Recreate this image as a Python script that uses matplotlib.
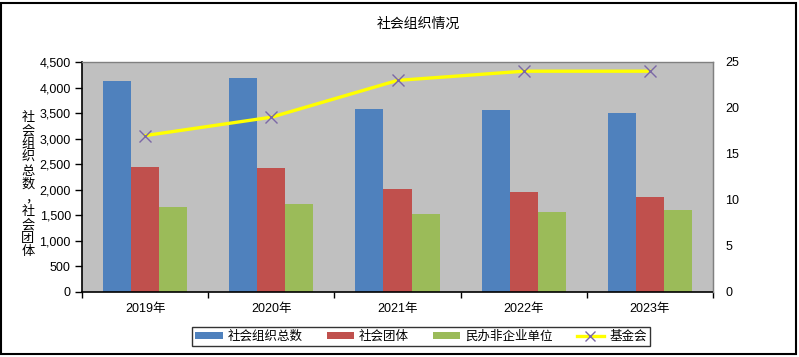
import matplotlib
matplotlib.use("Agg")
import matplotlib.pyplot as plt
from matplotlib.patches import Rectangle
from matplotlib.lines import Line2D
from matplotlib.patches import Patch
import numpy as np

plt.rcParams['font.family'] = ['Liberation Sans', 'Noto Sans CJK SC', 'DejaVu Sans']

years = ["2019年", "2020年", "2021年", "2022年", "2023年"]
total_orgs = [4128, 4187, 3580, 3561, 3502]
social_groups = [2446, 2426, 2015, 1957, 1859]
private_nonenterprise = [1663, 1722, 1526, 1565, 1604]
foundations = [17, 19, 23, 24, 24]

series_names = ["社会组织总数", "社会团体", "民办非企业单位", "基金会"]
colors = ["#4F81BD", "#C0504D", "#9BBB59"]
line_color = "#FFFF00"
marker_color = "#7B68A6"

W, H = 799, 357
fig = plt.figure(figsize=(W / 100, H / 100), dpi=100)
fig.patch.set_facecolor("white")

# chart frame
fig.patches.append(Rectangle((1 / W, 1 - 354 / H), 795 / W, 351 / H, transform=fig.transFigure,
                             fill=False, edgecolor="black", linewidth=1.5, zorder=0))

left, right, top, bottom = 82, 713, 62, 292
ax = fig.add_axes([left / W, 1 - bottom / H, (right - left) / W, (bottom - top) / H])
ax.set_facecolor("#C0C0C0")

x = np.arange(len(years))
bw = 0.222
ax.bar(x - bw, total_orgs, bw, color=colors[0], zorder=2)
ax.bar(x, social_groups, bw, color=colors[1], zorder=2)
ax.bar(x + bw, private_nonenterprise, bw, color=colors[2], zorder=2)

ax.set_xlim(-0.5, len(years) - 0.5)
ax.set_ylim(0, 4500)
ax.set_yticks(np.arange(0, 4501, 500))
ax.set_yticklabels([f"{v:,}" for v in range(0, 4501, 500)], fontsize=9)
ax.set_xticks(x)
ax.set_xticklabels(years, fontsize=9)
ax.set_xticks(np.arange(-0.5, len(years)), minor=True)
ax.tick_params(axis='x', which='major', length=0, pad=8)
ax.tick_params(axis='x', which='minor', length=4, width=1, color="black", direction="out")
ax.tick_params(axis='y', length=5, width=1, direction="out", pad=3)

for s in ["left", "bottom"]:
    ax.spines[s].set_color("black")
    ax.spines[s].set_linewidth(1.2)
for s in ["top", "right"]:
    ax.spines[s].set_color("#808080")
    ax.spines[s].set_linewidth(1.0)

ax2 = ax.twinx()
ax2.plot(x, foundations, color=line_color, linewidth=2.4, marker="x", markersize=8,
         markeredgecolor=marker_color, markeredgewidth=1.0, zorder=3)
ax2.set_ylim(0, 25)
ax2.set_yticks(np.arange(0, 26, 5))
ax2.tick_params(axis='y', length=0, pad=9, labelsize=9)
for s in ["left", "bottom", "top"]:
    ax2.spines[s].set_visible(False)
ax2.spines["right"].set_color("#808080")

# title
fig.text(418 / W, 1 - 24 / H, "社会组织情况", ha="center", va="center", fontsize=10,
         family=["Noto Sans CJK SC"])

# stacked y-label, one character per line
ylabel = "社会组织总数，社会团体"
y0, step = 117.5, 13.4
for i, ch in enumerate(ylabel):
    xx = 28
    yy = y0 + i * step
    if ch == "，":
        xx = 32
    fig.text(xx / W, 1 - yy / H, ch, ha="center", va="center", fontsize=9.5,
             family=["Noto Sans CJK SC"])

# legend
handles = [Patch(facecolor=c) for c in colors] + [
    Line2D([0], [0], color=line_color, linewidth=2.4, marker="x", markersize=7,
           markeredgecolor=marker_color, markeredgewidth=1.0)]
leg = fig.legend(handles, series_names, loc="center", bbox_to_anchor=(421 / W, 1 - 336.5 / H),
                 ncol=4, fontsize=9, frameon=True, fancybox=False, handlelength=2.2,
                 handleheight=0.5, columnspacing=1.9, handletextpad=0.4, borderpad=0.25,
                 borderaxespad=0)
leg.get_frame().set_edgecolor("black")
leg.get_frame().set_linewidth(1.0)

fig.savefig("out.png", dpi=100, facecolor="white")
